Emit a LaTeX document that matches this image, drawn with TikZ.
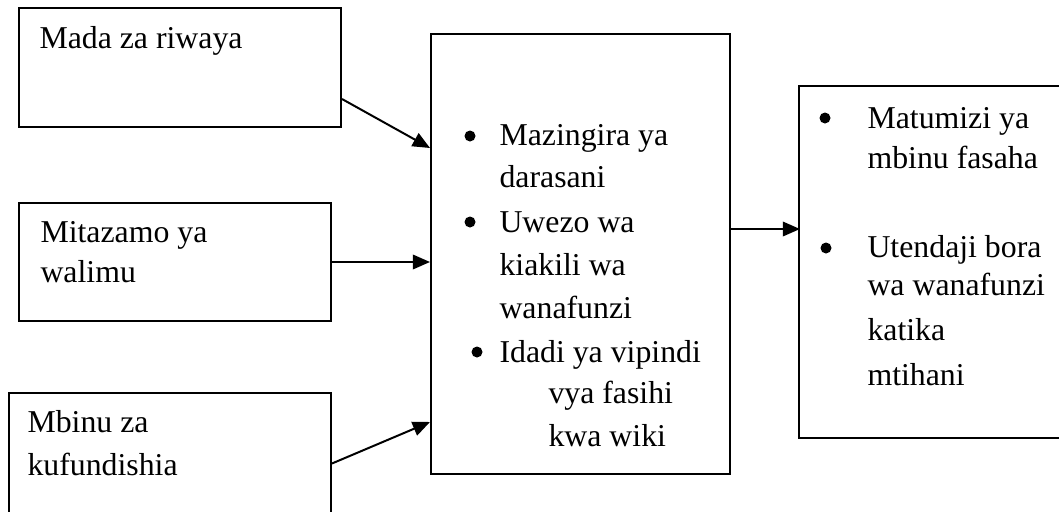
\documentclass[tikz,border=0pt]{standalone}
\usepackage{fontspec}
\setmainfont{Liberation Serif}
\usepackage{tikz}
\usetikzlibrary{calc,arrows.meta}

\newdimen\px
\px=0.3774pt

\tikzset{
  box/.style={draw, line width=0.75pt, anchor=north west, inner sep=0pt},
  txt/.style={anchor=base west, inner sep=0pt, font=\fontsize{12}{14}\selectfont},
  dot/.style={circle, fill, inner sep=0pt, minimum size=11\px},
  arr/.style={line width=0.75pt, -{Triangle[length=6.5pt,width=5.5pt]}}
}

\begin{document}
\begin{tikzpicture}
                [x={(0.3774pt,0pt)},y={(0pt,-0.3774pt)}]
                \useasboundingbox (0,0) rectangle (1059,511);

                % boxes
                \node[box, minimum width=322\px, minimum height=119\px] (mada) at (18,7) {};
                \node[box, minimum width=312\px, minimum height=118\px] (mitazamo) at (18,202) {};
                \node[box, minimum width=322\px, minimum height=119.5\px] (mbinu) at (8,392) {};
                \node[box, minimum width=299\px, minimum height=440\px] (mazingira) at (430,33) {};
                \node[box, minimum width=264\px, minimum height=352\px] (matokeo) at (798,85) {};

                % left texts
                \node[txt] (t1) at (39,48) {Mada za riwaya};
                \node[txt] (t2) at (40,242) {Mitazamo ya};
                \node[txt] (t3) at (40,282) {walimu};
                \node[txt] (t4) at (27,432) {Mbinu za};
                \node[txt] (t5) at (27,475) {kufundishia};

                % middle texts
                \node[dot] (d1) at (470,136) {};
                \node[txt] (t6) at (499,145) {Mazingira ya};
                \node[txt] (t7) at (499,187) {darasani};
                \node[dot] (d2) at (470,222) {};
                \node[txt] (t8) at (499,232) {Uwezo wa};
                \node[txt] (t9) at (499,275) {kiakili wa};
                \node[txt] (t10) at (499,318) {wanafunzi};
                \node[dot] (d3) at (477,352) {};
                \node[txt] (t11) at (499,362) {Idadi ya vipindi};
                \node[txt] (t12) at (548,403) {vya fasihi};
                \node[txt] (t13) at (548,446) {kwa wiki};

                % right texts
                \node[dot] (d4) at (825,118) {};
                \node[txt] (t14) at (867,128) {Matumizi ya};
                \node[txt] (t15) at (867,168) {mbinu fasaha};
                \node[dot] (d5) at (826,248) {};
                \node[txt] (t16) at (867,257) {Utendaji bora};
                \node[txt] (t17) at (867,295) {wa wanafunzi};
                \node[txt] (t18) at (867,340) {katika};
                \node[txt] (t19) at (867,385) {mtihani};

                % arrows
                \draw[arr] ($(mada.south east)+(0,-29)$) -- ($(mazingira.north west)+(0,115)$);
                \draw[arr] (mitazamo.east) -- (mitazamo.east -| mazingira.west);
                \draw[arr] ($(mbinu.south east)+(0,-50)$) -- ($(mazingira.south west)+(0,-53)$);
                \draw[arr] ($(mazingira.north east)+(0,196)$) -- ($(mazingira.north east)+(69,196)$);
            \end{tikzpicture}
\end{document}
